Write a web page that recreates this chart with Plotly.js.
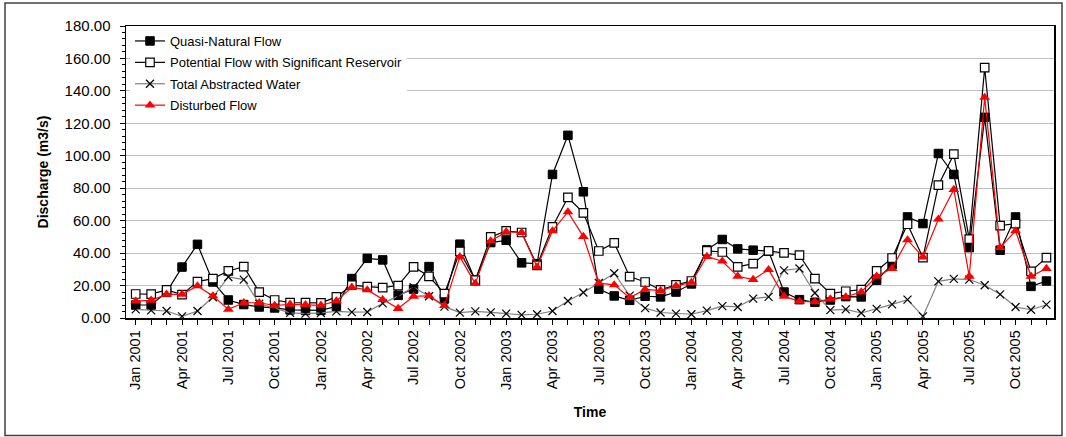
<!DOCTYPE html>
<html>
<head>
<meta charset="utf-8">
<script src="https://cdn.plot.ly/plotly-3.0.1.min.js"></script>
<style>
  html, body { margin: 0; padding: 0; background: #fff; }
  #chart { width: 1066px; height: 437px; }
</style>
</head>
<body>
<div id="chart"></div>
<script>
// Months Jan 2001 .. Dec 2005
const monthNames = ["Jan","Feb","Mar","Apr","May","Jun","Jul","Aug","Sep","Oct","Nov","Dec"];
const years = [2001, 2002, 2003, 2004, 2005];
const monthLabels = [];
years.forEach(y => monthNames.forEach(m => monthLabels.push(m + " " + y)));
const monthIndex = monthLabels.map((_, i) => i);

const quasiNatural = [
  8.0, 8.0, 16.0, 31.4, 45.4, 22.2, 11.1, 8.3, 6.8, 6.2, 5.0, 4.7,
  4.7, 7.2, 24.3, 36.8, 35.8, 14.0, 17.8, 31.7, 11.9, 45.5, 23.3, 46.5,
  47.9, 34.0, 33.5, 88.5, 112.6, 77.8, 17.8, 13.6, 10.9, 13.4, 13.0, 16.0,
  21.0, 42.0, 48.4, 42.6, 41.8, 41.2, 16.0, 11.3, 9.7, 11.1, 13.2, 13.0,
  23.3, 32.9, 62.3, 58.2, 101.4, 88.5, 43.4, 123.7, 41.8, 62.3, 19.5, 22.8
];
const potentialFlow = [
  14.8, 14.7, 17.3, 14.4, 22.4, 24.3, 29.0, 31.7, 16.0, 11.1, 9.5, 9.5,
  9.3, 13.0, 20.2, 19.3, 18.7, 20.0, 31.5, 25.7, 15.0, 41.0, 23.3, 50.0,
  53.7, 52.7, 32.5, 56.2, 74.3, 64.8, 41.3, 46.3, 25.5, 22.2, 17.3, 20.4,
  22.8, 41.4, 40.7, 31.5, 33.5, 41.4, 40.1, 38.7, 24.3, 15.0, 16.5, 17.5,
  29.0, 37.0, 57.8, 37.2, 81.9, 101.0, 48.6, 154.3, 57.0, 58.2, 28.8, 37.2
];
const totalAbstracted = [
  5.3, 4.7, 4.3, 1.0, 4.3, 12.8, 25.3, 23.7, 8.8, 6.1, 3.2, 2.7,
  3.1, 4.1, 3.6, 3.7, 9.0, 13.5, 19.0, 13.4, 7.0, 3.3, 4.1, 3.5,
  2.7, 1.9, 2.3, 4.3, 10.5, 15.7, 21.6, 27.6, 13.8, 6.1, 3.4, 2.7,
  2.3, 4.5, 7.3, 6.8, 11.9, 13.0, 29.4, 30.5, 15.4, 4.9, 5.3, 3.1,
  5.6, 8.4, 11.3, 1.0, 22.6, 24.1, 23.7, 20.2, 14.6, 6.8, 5.1, 8.2
];
const disturbedFlow = [
  10.4, 10.9, 14.6, 14.6, 19.8, 13.6, 5.3, 9.4, 9.4, 7.7, 8.4, 8.2,
  7.8, 10.5, 18.9, 17.3, 11.3, 5.8, 13.4, 13.7, 7.6, 37.7, 21.2, 47.5,
  53.1, 52.7, 31.5, 53.7, 65.4, 50.2, 21.5, 20.4, 12.5, 17.6, 16.9, 19.8,
  21.9, 37.9, 35.0, 25.7, 23.7, 29.8, 13.4, 10.3, 9.9, 11.7, 13.0, 16.0,
  25.7, 30.5, 48.1, 37.6, 60.9, 79.2, 25.7, 136.0, 43.4, 53.7, 25.7, 30.5
];

const seriesNames = [
  "Quasi-Natural Flow",
  "Potential Flow with Significant Reservoir",
  "Total Abstracted Water",
  "Disturbed Flow"
];

const tickIdx = monthIndex.filter(i => i % 3 === 0);
const tickTxt = tickIdx.map(i => monthLabels[i]);
const yTicks = [0, 20, 40, 60, 80, 100, 120, 140, 160, 180];

const traces = [
  {
    x: monthIndex, y: quasiNatural, name: seriesNames[0], legendgroup: "g1", type: "scatter", mode: "lines+markers",
    line: {color: "#000000", width: 1.2},
    marker: {symbol: "square", size: 8.5, color: "#000000", line: {color: "#000000", width: 1}}
  },
  {
    x: monthIndex, y: potentialFlow, name: seriesNames[1], legendgroup: "g2", type: "scatter", mode: "lines+markers",
    line: {color: "#000000", width: 1.2},
    marker: {symbol: "square", size: 8.5, color: "#ffffff", line: {color: "#000000", width: 1.2}}
  },
  {
    x: monthIndex, y: totalAbstracted, name: seriesNames[2], legendgroup: "g3", type: "scatter", mode: "lines+markers",
    line: {color: "#808080", width: 1.2},
    marker: {symbol: "x-thin-open", size: 8, color: "#000000", line: {color: "#000000", width: 1.2}}
  },
  {
    x: monthIndex, y: disturbedFlow, name: seriesNames[3], legendgroup: "g4", type: "scatter", mode: "lines+markers",
    line: {color: "#ff0000", width: 1.2},
    marker: {symbol: "triangle-up", size: 9.5, color: "#ff0000", line: {color: "#ff0000", width: 0}}
  }
];

const L = 126, R = 12, T = 26, B = 119, W = 1066, H = 437;
const pw = W - L - R, ph = H - T - B;
const px = v => (v - L) / pw;
const py = v => (H - B - v) / ph;

const layout = {
  width: W, height: H,
  margin: {l: L, r: R, t: T, b: B, pad: 0},
  paper_bgcolor: "#ffffff",
  plot_bgcolor: "#ffffff",
  font: {family: "Liberation Sans, Arial, sans-serif", color: "#000000", size: 14},
  showlegend: true,
  legend: {
    x: px(130), y: 1, xanchor: "left", yanchor: "top",
    bgcolor: "#ffffff", borderwidth: 0,
    font: {size: 13, family: "Liberation Sans, Arial, sans-serif"},
    tracegroupgap: 1.5, itemwidth: 30
  },
  xaxis: {
    type: "linear",
    range: [-0.63, 59.49],
    tickmode: "array", tickvals: tickIdx, ticktext: tickTxt,
    tickangle: -90,
    ticks: "outside", ticklen: 5, tickcolor: "#000000", tickwidth: 1,
    minor: {tickmode: "linear", tick0: 0, dtick: 1, ticks: "outside", ticklen: 5, tickcolor: "#000000", showgrid: false},
    showgrid: false, zeroline: false,
    showline: true, linecolor: "#000000", linewidth: 1.5, mirror: true,
    tickfont: {size: 14.5},
    title: {text: "<b>Time</b>", font: {size: 14}, standoff: 18}
  },
  yaxis: {
    range: [0, 180],
    tickmode: "array", tickvals: yTicks, ticktext: yTicks.map(v => v.toFixed(2)),
    ticks: "outside", ticklen: 5, tickcolor: "#000000", tickwidth: 1,
    minor: {tickmode: "linear", tick0: 0, dtick: 4, ticks: "outside", ticklen: 3, tickcolor: "#000000", showgrid: false},
    showgrid: true, gridcolor: "#c0c0c0", gridwidth: 1,
    zeroline: false,
    showline: true, linecolor: "#000000", linewidth: 1.5, mirror: true,
    tickfont: {size: 15},
    ticklabelstandoff: 6,
    title: {text: "<b>Discharge (m3/s)</b>", font: {size: 14}, standoff: 12}
  },
  shapes: [
    {type: "rect", xref: "paper", yref: "paper",
     x0: px(5), x1: px(1062), y0: py(435.5), y1: py(3),
     line: {color: "#404040", width: 1.5}, fillcolor: "rgba(0,0,0,0)", layer: "below"}
  ]
};

Plotly.newPlot("chart", traces, layout, {displayModeBar: false, staticPlot: true});
</script>
</body>
</html>
